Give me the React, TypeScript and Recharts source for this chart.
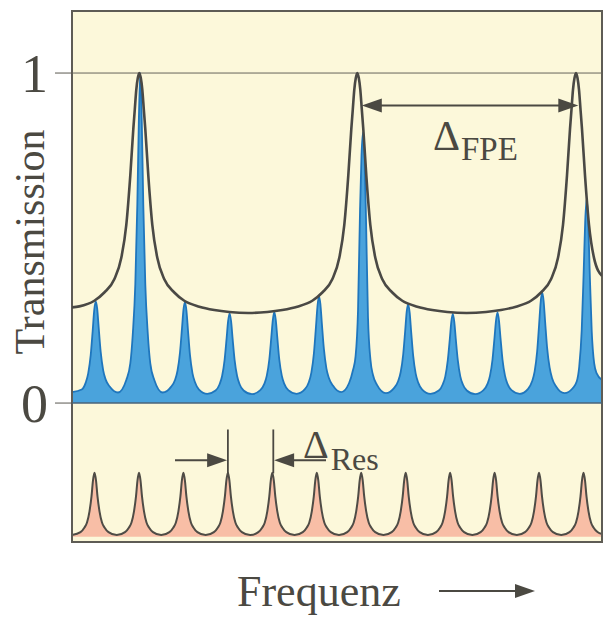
import React from 'react';
import {
  ComposedChart,
  Area,
  Line,
  XAxis,
  YAxis,
  CartesianGrid,
  ReferenceLine,
  ReferenceDot,
  ReferenceArea,
  Label,
} from 'recharts';

type P = [number, number];

// Frequency in arbitrary units (0..530), transmission in units of the peak value
const freqDomain: [number, number] = [0, 530];
const transDomain: [number, number] = [-0.421, 1.188];
const yTicks = [0, 1];
const yTitle = 'Transmission';
const xTitle = 'Frequenz';

// Fabry-Perot etalon envelope (dark line)
const envelopeCurve: P[] = [
  [0, 0.29], [7.3, 0.293], [22.3, 0.31], [32.3, 0.335], [42.3, 0.375], [49.3, 0.44], [54.3, 0.54],
  [58.3, 0.69], [61.3, 0.83], [62.8, 0.89], [64.3, 0.95], [65.8, 0.985], [67.3, 1.0], [68.8, 0.985],
  [70.3, 0.95], [71.8, 0.89], [73.3, 0.83], [76.3, 0.69], [80.3, 0.54], [85.3, 0.44], [92.3, 0.375],
  [102.3, 0.335], [112.3, 0.31], [127.3, 0.292], [142.3, 0.282], [157.3, 0.276], [176.3, 0.273],
  [195.3, 0.276], [210.3, 0.282], [225.3, 0.292], [240.3, 0.31], [250.3, 0.335], [260.3, 0.375],
  [267.3, 0.44], [272.3, 0.54], [276.3, 0.69], [279.3, 0.83], [280.8, 0.89], [282.3, 0.95],
  [283.8, 0.985], [285.3, 1.0], [286.8, 0.985], [288.3, 0.95], [289.8, 0.89], [291.3, 0.83],
  [294.3, 0.69], [298.3, 0.54], [303.3, 0.44], [310.3, 0.375], [320.3, 0.335], [330.3, 0.31],
  [345.3, 0.292], [360.3, 0.282], [375.3, 0.276], [394.6, 0.273],
  [414.0, 0.276], [429.0, 0.282], [444.0, 0.292], [459.0, 0.31], [469.0, 0.335], [479.0, 0.375],
  [486.0, 0.44], [491.0, 0.54], [495.0, 0.69], [498.0, 0.83], [499.5, 0.89], [501.0, 0.95],
  [502.5, 0.985], [504.0, 1.0], [505.5, 0.985], [507.0, 0.95], [508.5, 0.89], [510.0, 0.83],
  [513.0, 0.69], [517.0, 0.54], [522.0, 0.44], [530, 0.385],
];

// Transmission of laser resonator modes through the etalon (blue)
const transmittedModes: P[] = [
  [0, 0.033],
  [9.7, 0.041], [13.7, 0.062], [16.2, 0.09], [18.7, 0.145], [20.7, 0.22], [22.2, 0.281], [23.7, 0.308],
  [25.2, 0.286], [26.7, 0.229], [28.7, 0.155], [31.2, 0.099], [33.7, 0.071], [37.7, 0.05], [46.0, 0.032],
  [54.3, 0.07], [58.3, 0.12], [60.8, 0.21], [63.3, 0.36], [65.3, 0.6], [66.8, 0.85], [68.3, 1.0],
  [69.8, 0.85], [71.3, 0.6], [73.3, 0.36], [75.8, 0.21], [78.3, 0.12], [82.3, 0.07], [90.65, 0.032],
  [99.0, 0.049], [103.0, 0.07], [105.5, 0.098], [108.0, 0.154], [110.0, 0.227], [111.5, 0.284], [113.0, 0.306],
  [114.5, 0.279], [116.0, 0.22], [118.0, 0.145], [120.5, 0.09], [123.0, 0.063], [127.0, 0.041], [135.3, 0.028],
  [143.6, 0.038], [147.6, 0.057], [150.1, 0.082], [152.6, 0.131], [154.6, 0.196], [156.1, 0.248], [157.6, 0.272],
  [159.1, 0.248], [160.6, 0.196], [162.6, 0.131], [165.1, 0.082], [167.6, 0.057], [171.6, 0.038], [179.95, 0.027],
  [188.3, 0.039], [192.3, 0.058], [194.8, 0.083], [197.3, 0.132], [199.3, 0.199], [200.8, 0.251], [202.3, 0.276],
  [203.8, 0.251], [205.3, 0.199], [207.3, 0.132], [209.8, 0.083], [212.3, 0.058], [216.3, 0.039], [224.6, 0.028],
  [232.9, 0.042], [236.9, 0.064], [239.4, 0.093], [241.9, 0.151], [243.9, 0.229], [245.4, 0.291], [246.9, 0.324],
  [248.4, 0.3], [249.9, 0.24], [251.9, 0.164], [254.4, 0.105], [256.9, 0.076], [260.9, 0.053], [269.2, 0.033],
  [277.0, 0.06], [281.0, 0.1], [283.5, 0.14], [286.0, 0.28], [288.0, 0.58], [289.5, 0.75], [291.0, 0.82],
  [292.5, 0.75], [294.0, 0.56], [296.0, 0.26], [298.5, 0.13], [301.0, 0.085], [305.0, 0.055], [313.85, 0.03],
  [322.2, 0.046], [326.2, 0.067], [328.7, 0.094], [331.2, 0.148], [333.2, 0.22], [334.7, 0.277], [336.2, 0.3],
  [337.7, 0.273], [339.2, 0.215], [341.2, 0.143], [343.7, 0.089], [346.2, 0.062], [350.2, 0.041], [358.5, 0.028],
  [366.8, 0.038], [370.8, 0.057], [373.3, 0.081], [375.8, 0.13], [377.8, 0.194], [379.3, 0.246], [380.8, 0.27],
  [382.3, 0.246], [383.8, 0.194], [385.8, 0.13], [388.3, 0.081], [390.8, 0.057], [394.8, 0.038], [403.15, 0.027],
  [411.5, 0.039], [415.5, 0.058], [418.0, 0.083], [420.5, 0.132], [422.5, 0.198], [424.0, 0.25], [425.5, 0.275],
  [427.0, 0.25], [428.5, 0.198], [430.5, 0.132], [433.0, 0.083], [435.5, 0.058], [439.5, 0.039], [447.8, 0.028],
  [456.1, 0.043], [460.1, 0.066], [462.6, 0.095], [465.1, 0.155], [467.1, 0.238], [468.6, 0.304], [470.1, 0.335],
  [471.6, 0.31], [473.1, 0.248], [475.1, 0.168], [477.6, 0.108], [480.1, 0.075], [484.1, 0.05], [492.4, 0.03],
  [500.7, 0.045], [504.7, 0.065], [507.2, 0.11], [509.7, 0.22], [511.7, 0.4], [513.2, 0.55], [514.7, 0.62],
  [516.2, 0.55], [517.7, 0.4], [519.7, 0.22], [522.2, 0.12], [524.7, 0.09], [530, 0.07],
];

// Laser resonator modes (pink comb, drawn below the zero line)
const resonatorModes: P[] = [
  [0, -0.4],
  [8.5, -0.391], [12.5, -0.377], [15.0, -0.362], [17.5, -0.328], [19.5, -0.283], [21.0, -0.234], [22.5, -0.211],
  [24.0, -0.234], [25.5, -0.283], [27.5, -0.328], [30.0, -0.362], [32.5, -0.377], [36.5, -0.391], [44.75, -0.4],
  [53.0, -0.391], [57.0, -0.377], [59.5, -0.362], [62.0, -0.328], [64.0, -0.283], [65.5, -0.234], [67.0, -0.211],
  [68.5, -0.234], [70.0, -0.283], [72.0, -0.328], [74.5, -0.362], [77.0, -0.377], [81.0, -0.391], [89.2, -0.4],
  [97.4, -0.391], [101.4, -0.377], [103.9, -0.362], [106.4, -0.328], [108.4, -0.283], [109.9, -0.234], [111.4, -0.211],
  [112.9, -0.234], [114.4, -0.283], [116.4, -0.328], [118.9, -0.362], [121.4, -0.377], [125.4, -0.391], [133.65, -0.4],
  [141.9, -0.391], [145.9, -0.377], [148.4, -0.362], [150.9, -0.328], [152.9, -0.283], [154.4, -0.234], [155.9, -0.211],
  [157.4, -0.234], [158.9, -0.283], [160.9, -0.328], [163.4, -0.362], [165.9, -0.377], [169.9, -0.391], [178.1, -0.4],
  [186.3, -0.391], [190.3, -0.377], [192.8, -0.362], [195.3, -0.328], [197.3, -0.283], [198.8, -0.234], [200.3, -0.211],
  [201.8, -0.234], [203.3, -0.283], [205.3, -0.328], [207.8, -0.362], [210.3, -0.377], [214.3, -0.391], [222.55, -0.4],
  [230.8, -0.391], [234.8, -0.377], [237.3, -0.362], [239.8, -0.328], [241.8, -0.283], [243.3, -0.234], [244.8, -0.211],
  [246.3, -0.234], [247.8, -0.283], [249.8, -0.328], [252.3, -0.362], [254.8, -0.377], [258.8, -0.391], [267.0, -0.4],
  [275.2, -0.391], [279.2, -0.377], [281.7, -0.362], [284.2, -0.328], [286.2, -0.283], [287.7, -0.234], [289.2, -0.211],
  [290.7, -0.234], [292.2, -0.283], [294.2, -0.328], [296.7, -0.362], [299.2, -0.377], [303.2, -0.391], [311.45, -0.4],
  [319.7, -0.391], [323.7, -0.377], [326.2, -0.362], [328.7, -0.328], [330.7, -0.283], [332.2, -0.234], [333.7, -0.211],
  [335.2, -0.234], [336.7, -0.283], [338.7, -0.328], [341.2, -0.362], [343.7, -0.377], [347.7, -0.391], [355.9, -0.4],
  [364.1, -0.391], [368.1, -0.377], [370.6, -0.362], [373.1, -0.328], [375.1, -0.283], [376.6, -0.234], [378.1, -0.211],
  [379.6, -0.234], [381.1, -0.283], [383.1, -0.328], [385.6, -0.362], [388.1, -0.377], [392.1, -0.391], [400.35, -0.4],
  [408.6, -0.391], [412.6, -0.377], [415.1, -0.362], [417.6, -0.328], [419.6, -0.283], [421.1, -0.234], [422.6, -0.211],
  [424.1, -0.234], [425.6, -0.283], [427.6, -0.328], [430.1, -0.362], [432.6, -0.377], [436.6, -0.391], [444.8, -0.4],
  [453.0, -0.391], [457.0, -0.377], [459.5, -0.362], [462.0, -0.328], [464.0, -0.283], [465.5, -0.234], [467.0, -0.211],
  [468.5, -0.234], [470.0, -0.283], [472.0, -0.328], [474.5, -0.362], [477.0, -0.377], [481.0, -0.391], [489.25, -0.4],
  [497.5, -0.391], [501.5, -0.377], [504.0, -0.362], [506.5, -0.328], [508.5, -0.283], [510.0, -0.234], [511.5, -0.211],
  [513.0, -0.234], [514.5, -0.283], [516.5, -0.328], [519.0, -0.362], [521.5, -0.377], [525.5, -0.391], [530, -0.397],
];
const resonatorBase = -0.405;

// Annotation anchors (data units)
const fpeArrowLevel = 0.902;
const fpeArrowFrom = 289.8;
const fpeArrowTo = 506.3;
const fpeLabelAt: P = [361, 0.767];
const resMarkerLeft = 155.9;
const resMarkerRight = 201.3;
const resMarkerTop = -0.08;
const resMarkerBottom = -0.213;
const resArrowLevel = -0.173;
const resArrowLeftStart = 103;
const resArrowRightEnd = 254;
const resLabelAt: P = [231, -0.167];

const toRows = (pts: P[]) => pts.map(([f, t]) => ({ f, t }));

const SERIF = '"Liberation Serif", "Times New Roman", serif';
const INK = '#4b4942';
const BG = '#FCF8DA';
const BLUE_FILL = '#4aa3dc';
const BLUE_LINE = '#1f76bd';
const PINK_FILL = '#f8bea6';

const arrowHead = (pointsRight: boolean, len = 20, half = 7) => (props: any) => {
  const { cx, cy } = props;
  const s = pointsRight ? -1 : 1;
  return (
    <polygon
      points={`${cx},${cy} ${cx + s * len},${cy - half} ${cx + s * len},${cy + half}`}
      fill={INK}
    />
  );
};

const deltaText = (sub: string, big: number, small: number, dy: number, dx: number) => (props: any) => (
  <text x={props.cx} y={props.cy} fontFamily={SERIF} fill={INK}>
    <tspan fontSize={big}>Δ</tspan>
    <tspan fontSize={small} dy={dy} dx={dx}>
      {sub}
    </tspan>
  </text>
);

const FreqLabel = () => (
  <g>
    <text x={237} y={606} fontFamily={SERIF} fontSize={44} fill={INK}>
      {xTitle}
    </text>
    <line x1={439} y1={591} x2={518} y2={591} stroke={INK} strokeWidth={2} />
    <polygon points="535,591 515,584 515,598" fill={INK} />
  </g>
);

const TransLabel = () => (
  <text
    x={44}
    y={242}
    transform="rotate(-90 44 242)"
    textAnchor="middle"
    fontFamily={SERIF}
    fontSize={42}
    fill={INK}
  >
    {yTitle}
  </text>
);

export default function App() {
  return (
    <div style={{ position: 'absolute', left: 0, top: 0, width: 603, height: 617 }}>
      <ComposedChart width={603} height={617} margin={{ top: 11, right: 1, bottom: 0, left: 0 }}>
        <CartesianGrid horizontal={false} vertical={false} fill={BG} stroke="none" />
        <XAxis
          type="number"
          dataKey="f"
          domain={freqDomain}
          allowDataOverflow
          height={75}
          tick={false}
          tickLine={false}
          axisLine={false}
          label={<Label content={FreqLabel} />}
        />
        <YAxis
          type="number"
          dataKey="t"
          domain={transDomain}
          allowDataOverflow
          ticks={yTicks}
          interval={0}
          width={72}
          axisLine={false}
          tickSize={17}
          tickMargin={7}
          tickLine={{ stroke: '#5a5850', strokeWidth: 1 }}
          tick={{ fontFamily: SERIF, fontSize: 54, fill: INK }}
          label={<Label content={TransLabel} />}
        />
        <ReferenceLine y={1} stroke="#66645a" strokeWidth={1} />
        <Area
          data={toRows(resonatorModes)}
          dataKey="t"
          type="monotone"
          baseValue={resonatorBase}
          fill={PINK_FILL}
          fillOpacity={1}
          stroke="#4f4c46"
          strokeWidth={2}
          dot={false}
          activeDot={false}
          isAnimationActive={false}
        />
        <Area
          data={toRows(transmittedModes)}
          dataKey="t"
          type="monotone"
          baseValue={0}
          fill={BLUE_FILL}
          fillOpacity={1}
          stroke={BLUE_LINE}
          strokeWidth={1.8}
          dot={false}
          activeDot={false}
          isAnimationActive={false}
        />
        <ReferenceLine y={0} stroke="#4a6379" strokeWidth={1.5} />
        <Line
          data={toRows(envelopeCurve)}
          dataKey="t"
          type="monotone"
          stroke="#4a4945"
          strokeWidth={2.6}
          dot={false}
          activeDot={false}
          isAnimationActive={false}
        />
        {/* Delta FPE */}
        <ReferenceLine
          segment={[
            { x: fpeArrowFrom + 10, y: fpeArrowLevel },
            { x: fpeArrowTo - 10, y: fpeArrowLevel },
          ]}
          stroke={INK}
          strokeWidth={2}
        />
        <ReferenceDot x={fpeArrowFrom} y={fpeArrowLevel} shape={arrowHead(false)} />
        <ReferenceDot x={fpeArrowTo} y={fpeArrowLevel} shape={arrowHead(true)} />
        <ReferenceDot x={fpeLabelAt[0]} y={fpeLabelAt[1]} shape={deltaText('FPE', 42, 33, 10, 1)} />
        {/* Delta Res */}
        <ReferenceLine
          segment={[
            { x: resMarkerLeft, y: resMarkerTop },
            { x: resMarkerLeft, y: resMarkerBottom },
          ]}
          stroke={INK}
          strokeWidth={1.8}
        />
        <ReferenceLine
          segment={[
            { x: resMarkerRight, y: resMarkerTop },
            { x: resMarkerRight, y: resMarkerBottom },
          ]}
          stroke={INK}
          strokeWidth={1.8}
        />
        <ReferenceLine
          segment={[
            { x: resArrowLeftStart, y: resArrowLevel },
            { x: resMarkerLeft - 10, y: resArrowLevel },
          ]}
          stroke={INK}
          strokeWidth={2}
        />
        <ReferenceLine
          segment={[
            { x: resMarkerRight + 10, y: resArrowLevel },
            { x: resArrowRightEnd, y: resArrowLevel },
          ]}
          stroke={INK}
          strokeWidth={2}
        />
        <ReferenceDot x={resMarkerLeft - 0.8} y={resArrowLevel} shape={arrowHead(true)} />
        <ReferenceDot x={resMarkerRight + 0.8} y={resArrowLevel} shape={arrowHead(false)} />
        <ReferenceDot x={resLabelAt[0]} y={resLabelAt[1]} shape={deltaText('Res', 40, 32, 12, 2)} />
        <ReferenceArea
          x1={freqDomain[0]}
          x2={freqDomain[1]}
          y1={transDomain[0]}
          y2={transDomain[1]}
          fill="none"
          stroke="#5e5c55"
          strokeWidth={2}
        />
      </ComposedChart>
    </div>
  );
}
